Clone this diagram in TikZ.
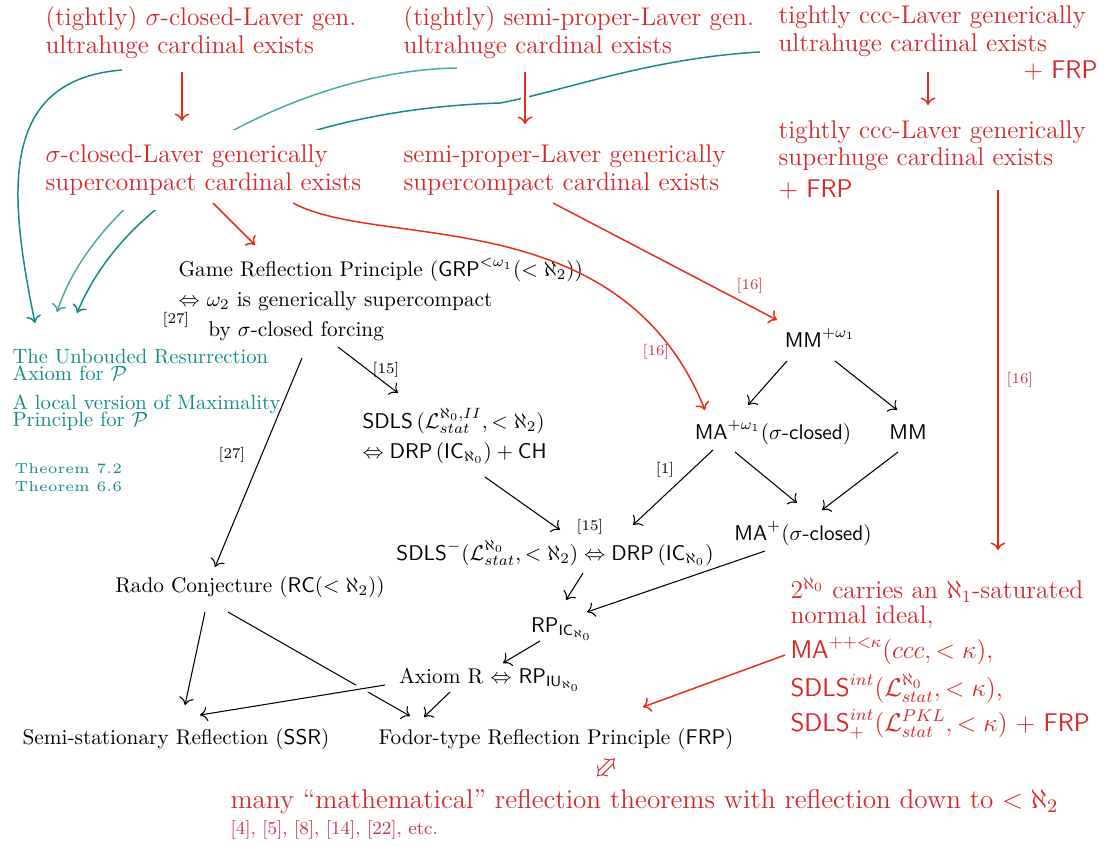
\RequirePackage{fix-cm}
\documentclass[tikz,border=0pt]{standalone}
\usepackage{amsmath,amssymb}
\usepackage{graphicx}
\usetikzlibrary{calc,arrows.meta}

\definecolor{laverred}{RGB}{214,40,40}
\definecolor{arrowred}{RGB}{232,46,26}
\definecolor{citered}{RGB}{200,50,72}
\definecolor{raTeal}{RGB}{20,138,138}

\newcommand{\tightlines}{\lineskiplimit=-20pt\relax}

\tikzset{every picture/.style={line width=0.5pt}}
\tikzset{
  >={To[length=3.5pt,width=7pt]},
  redtext/.style={inner sep=0pt,align=left,text=laverred,font=\fontsize{12}{12.7}\selectfont\tightlines},
  blacktext/.style={inner sep=0pt,align=left},
  tealtext/.style={inner sep=0pt,align=left,text=raTeal,font=\fontsize{9.7}{7.6}\selectfont\tightlines},
  cite/.style={inner sep=0pt,font=\scriptsize},
  redcite/.style={cite,text=citered},
  impl/.style={->},
  redimpl/.style={->,draw=arrowred,line width=0.7pt},
  tealimpl/.style={->,draw=raTeal,line width=0.7pt},
  crossing/.style={preaction={draw=white,line width=4pt,-}},
}

\begin{document}
\begin{tikzpicture}[x=0.47pt,y=0.47pt,yscale=-1,xscale=1]
\useasboundingbox (0,0) rectangle (1104,845);

% Text Node
\draw (45,53) node (uhA) [redtext,anchor=base west] {(tightly) $\sigma$-closed-Laver gen.\\ ultrahuge cardinal exists};
% Text Node
\draw (403,53) node (uhB) [redtext,anchor=base west] {(tightly) semi-proper-Laver gen.\\ ultrahuge cardinal exists};
% Text Node
\draw (778,51) node (uhC) [redtext,anchor=base west] {tightly ccc-Laver generically\\ ultrahuge cardinal exists};
% Text Node
\draw (1098,78) node (uhCfrp) [redtext,anchor=base east] {$+$ \textsf{FRP}};

% Text Node
\draw (12,380) node (ura) [tealtext,anchor=base west] {The Unbouded Resurrection\\ Axiom for $\mathcal{P}$};
% Text Node
\draw (12,426) node (lmp) [tealtext,anchor=base west] {A local version of Maximality\\ Principle for $\mathcal{P}$};
% Text Node
\draw (14,491) node (thm) [tealtext,anchor=base west,font=\fontsize{10}{8}\selectfont] {\scalebox{1.35}{\tiny Theorem 7.2}\\ \scalebox{1.35}{\tiny Theorem 6.6}};

%Curve Lines
\draw [tealimpl] ($(uhA.base west)+(77,17)$) .. controls +(-127,10) and +(-25,-123) .. ($(ura.base west)+(23,-57)$);
%Curve Lines
\draw [tealimpl,draw=raTeal!75] ($(uhB.base west)+(54,15)$) .. controls +(-157,2) and +(43,-132) .. ($(ura.base west)+(45,-68)$);
%Curve Lines
\draw [tealimpl] ($(uhC.base west)+(-18,1)$) .. controls +(-110,6) and +(60,-11) .. ++(-260,51) .. controls +(-170,5) and +(63,-148) .. ($(ura.base west)+(65,-67)$);

% Text Node
\draw (37,190) node (scA) [redtext,anchor=base west,fill=white,inner xsep=3.76pt,inner ysep=7pt] {$\sigma$-closed-Laver generically\\ supercompact cardinal exists};
% Text Node
\draw (403,190) node (scB) [redtext,anchor=base west] {semi-proper-Laver generically\\ supercompact cardinal exists};
% Text Node
\draw (778,197) node (shC) [redtext,anchor=base west] {tightly ccc-Laver generically\\ superhuge cardinal exists\\[2.3pt] $+$ \textsf{FRP}};

% Text Node
\draw (178,336) node (grp) [blacktext,anchor=base west] {Game Reflection Principle ($\mathsf{GRP}^{<\omega_1}(<\aleph_2)$)\\[2pt] $\Leftrightarrow$ $\omega_2$ is generically supercompact\\[2pt] \hspace*{14pt}by $\sigma$-closed forcing};
% Text Node
\draw (820,347) node (mmw) [blacktext,anchor=base] {$\mathsf{MM}^{+\omega_1}$};
% Text Node
\draw (773,439) node (maw) [blacktext,anchor=base] {$\mathsf{MA}^{+\omega_1}(\sigma\textsf{-closed})$};
% Text Node
\draw (908,439) node (mm) [blacktext,anchor=base] {$\mathsf{MM}$};
% Text Node
\draw (803,540) node (map) [blacktext,anchor=base] {$\mathsf{MA}^{+}(\sigma\textsf{-closed})$};
% Text Node
\draw (362,458) node (sdls) [blacktext,anchor=base west] {$\mathsf{SDLS}\,(\mathcal{L}^{\aleph_0,II}_{stat},<\aleph_2)$\\[2pt] $\Leftrightarrow\mathsf{DRP}\,(\mathsf{IC}_{\aleph_0})+\mathsf{CH}$};
% Text Node
\draw (555,560) node (sdlsm) [blacktext,anchor=base] {$\mathsf{SDLS}^-(\mathcal{L}^{\aleph_0}_{stat},<\aleph_2)\Leftrightarrow\mathsf{DRP}\,(\mathsf{IC}_{\aleph_0})$};
% Text Node
\draw (562,632) node (rpic) [blacktext,anchor=base] {$\mathsf{RP}_{\mathsf{IC}_{\aleph_0}}$};
% Text Node
\draw (490,683) node (axr) [blacktext,anchor=base] {Axiom R $\Leftrightarrow$ $\mathsf{RP}_{\mathsf{IU}_{\aleph_0}}$};
% Text Node
\draw (250,592) node (rc) [blacktext,anchor=base] {Rado Conjecture ($\mathsf{RC}(<\aleph_2)$)};
% Text Node
\draw (176,744) node (ssr) [blacktext,anchor=base] {Semi-stationary Reflection ($\mathsf{SSR}$)};
% Text Node
\draw (556,744) node (frp) [blacktext,anchor=base] {Fodor-type Reflection Principle ($\mathsf{FRP}$)};

% Text Node
\draw (790,731) node (refl) [redtext,anchor=base west] {$2^{\aleph_0}$ carries an $\aleph_1$-saturated\\[-0.95pt] normal ideal,\\[3.75pt] $\mathsf{MA}^{++<\kappa}(ccc,<\kappa)$,\\[5.2pt] $\mathsf{SDLS}^{int}(\mathcal{L}^{\aleph_0}_{stat},<\kappa)$,\\[3.3pt] $\mathsf{SDLS}^{int}_+(\mathcal{L}^{PKL}_{stat},<\kappa)$ $+$ \textsf{FRP}};
% Text Node
\draw (230,808) node (many) [redtext,anchor=base west,font=\fontsize{12.76}{14}\selectfont] {many ``mathematical'' reflection theorems with reflection down to $<\aleph_2$};
% Text Node
\draw (230,834) node (manyref) [redcite,anchor=base west,font=\fontsize{8.7}{10}\selectfont] {[4], [5], [8], [14], [22], etc.};
% Text Node
\draw (608,769) node (eqv) [inner sep=0pt,text=laverred] {\scalebox{1.3}{\rotatebox{45}{$\Leftrightarrow$}}};

% Text Node
\draw (176,320) node (c27a) [cite] {[27]};
\draw (386,370) node (c15a) [cite] {[15]};
\draw (232,455) node (c27b) [cite] {[27]};
\draw (590,527) node (c15b) [cite] {[15]};
\draw (665,470) node (c1) [cite] {[1]};
\draw (750,286) node (c16a) [redcite] {[16]};
\draw (656,352) node (c16b) [redcite] {[16]};
\draw (1020,380) node (c16c) [redcite] {[16]};

%Straight Lines
\draw [redimpl] ($(uhA.base west)+(137,19)$) -- ($(scA.base west)+(145,-69)$);
\draw [redimpl,crossing] ($(uhB.base west)+(122,19)$) -- ($(scB.base west)+(122,-66)$);
\draw [redimpl] ($(uhC.base west)+(150,21)$) -- ($(shC.base west)+(150,-92)$);
\draw [redimpl] ($(shC.base west)+(220,-7)$) -- ($(refl.base west)+(208,-181)$);
\draw [redimpl] ($(scA.base west)+(176,13)$) -- ($(grp.base west)+(77,-91)$);
\draw [redimpl] ($(scA.base west)+(256,13)$) .. controls +(87,47) and +(-85,-210) .. ($(maw.base)+(-68,-29)$);
\draw [redimpl] ($(scB.base west)+(150,13)$) -- ($(mmw.base)+(-43,-27)$);
\draw [redimpl] ($(refl.base west)+(-5,-76)$) -- ($(frp.base)+(87,-37)$);

%Straight Lines
\draw [impl] ($(grp.base west)+(160,11)$) -- ($(sdls.base west)+(36,-65)$);
\draw [impl] ($(grp.base west)+(124,22)$) -- ($(rc.base)+(-35,-25)$);
\draw [impl] ($(sdls.base west)+(123,19)$) -- ($(sdlsm.base)+(5,-30)$);
\draw [impl] ($(maw.base)+(-60,11)$) -- ($(sdlsm.base)+(78,-35)$);
\draw [impl] ($(mmw.base)+(-33,14)$) -- ($(maw.base)+(-25,-34)$);
\draw [impl] ($(mmw.base)+(15,14)$) -- ($(mm.base)+(-11,-29)$);
\draw [impl] ($(maw.base)+(-38,13)$) -- ($(map.base)+(-6,-37)$);
\draw [impl] ($(mm.base)+(-10,13)$) -- ($(map.base)+(19,-30)$);
\draw [impl] ($(sdlsm.base)+(28,13)$) -- ($(rpic.base)+(4,-32)$);
\draw [impl] ($(map.base)+(-38,11)$) -- ($(rpic.base)+(25,-20)$);
\draw [impl] ($(rpic.base)+(-22,9)$) -- ($(axr.base)+(13,-20)$);
\draw [impl] ($(rc.base)+(-45,20)$) -- ($(ssr.base)+(9,-39)$);
\draw [impl] ($(rc.base)+(-22,20)$) -- ($(frp.base)+(-146,-28)$);
\draw [impl] ($(axr.base)+(-40,9)$) -- ($(frp.base)+(-132,-27)$);
\draw [impl,crossing] ($(axr.base)+(-105,2)$) -- ($(ssr.base)+(24,-29)$);
\end{tikzpicture}
\end{document}
